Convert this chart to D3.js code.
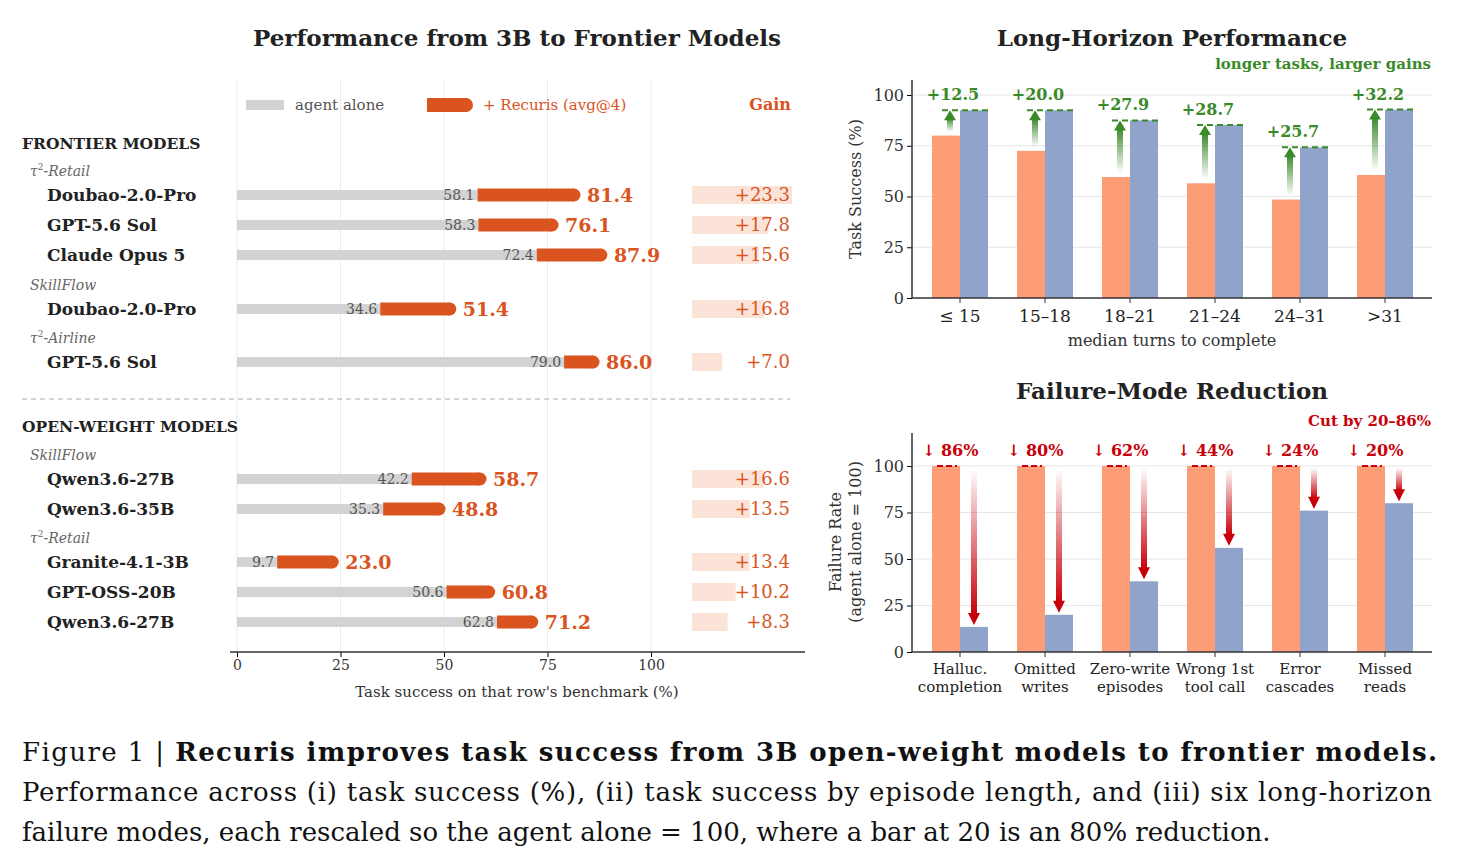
<!DOCTYPE html>
<html><head><meta charset="utf-8">
<script src="https://cdn.jsdelivr.net/npm/d3@7"></script>
<style>body{margin:0;background:#fff}svg{display:block}text{font-family:"DejaVu Serif",serif}</style>
</head><body><svg id="fig" width="1458" height="865"></svg>
<script>
// left panel data
const rowModels = ['Doubao-2.0-Pro','GPT-5.6 Sol','Claude Opus 5','Doubao-2.0-Pro','GPT-5.6 Sol','Qwen3.6-27B','Qwen3.6-35B','Granite-4.1-3B','GPT-OSS-20B','Qwen3.6-27B'];
const agentAlone = [58.1,58.3,72.4,34.6,79.0,42.2,35.3,9.7,50.6,62.8];
const withRecuris = [81.4,76.1,87.9,51.4,86.0,58.7,48.8,23.0,60.8,71.2];
const gains = [23.3,17.8,15.6,16.8,7.0,16.6,13.5,13.4,10.2,8.3];
const rowY = [195,225,255,309,362,479,509,562,592,622];
const groupLabels = [['τ','-Retail',171],['SkillFlow','',285],['τ','-Airline',338],['SkillFlow','',455],['τ','-Retail',538]];
// long-horizon data
const lengthBins = ['≤ 15','15–18','18–21','21–24','24–31','>31'];
const baseSuccess = [80.0,72.5,59.6,56.5,48.5,60.6];
const recurisSuccess = [92.5,92.5,87.5,85.2,74.2,92.8];
const lhGains = [12.5,20.0,27.9,28.7,25.7,32.2];
// failure modes
const failureModes = [['Halluc.','completion'],['Omitted','writes'],['Zero-write','episodes'],['Wrong 1st','tool call'],['Error','cascades'],['Missed','reads']];
const failRate = [13.5,20,38,56,76,80];
const cutLabels = ['86%','80%','62%','44%','24%','20%'];

const ORANGE = '#d9541e', GRAY = '#d3d3d3', SALMON = '#fc9d78', BLUE = '#8fa3cb', GREEN = '#3b8a2a', RED = '#c8000a';
const svg = d3.select('#fig');
const defs = svg.append('defs');

// ---------- left panel ----------
const x = d3.scaleLinear().domain([0,100]).range([237,651]);
svg.append('text').attr('x',517).attr('y',46).attr('text-anchor','middle').attr('font-size',23).attr('font-weight','bold').attr('fill','#222').text('Performance from 3B to Frontier Models');
svg.append('g').selectAll('line').data([0,25,50,75,100]).join('line')
  .attr('x1',d=>x(d)).attr('x2',d=>x(d)).attr('y1',80).attr('y2',652).attr('stroke','#ebebeb');
const ax = svg.append('g').attr('transform','translate(0,652)')
  .call(d3.axisBottom(x).tickValues([0,25,50,75,100]).tickSize(5));
ax.select('.domain').remove();
ax.selectAll('text').attr('font-size',14).attr('fill','#333').attr('font-family','DejaVu Serif');
svg.append('line').attr('x1',230).attr('x2',805).attr('y1',652).attr('y2',652).attr('stroke','#333').attr('stroke-width',1.5);
svg.append('text').attr('x',517).attr('y',697).attr('text-anchor','middle').attr('font-size',15).attr('fill','#333').text("Task success on that row's benchmark (%)");
// legend
svg.append('rect').attr('x',246).attr('y',100).attr('width',38).attr('height',10).attr('fill',GRAY);
svg.append('text').attr('x',295).attr('y',110).attr('font-size',15).attr('fill','#555').text('agent alone');
svg.append('rect').attr('x',427).attr('y',98).attr('width',40).attr('height',14).attr('fill',ORANGE);
svg.append('circle').attr('cx',466).attr('cy',105).attr('r',7).attr('fill',ORANGE);
svg.append('text').attr('x',483).attr('y',110).attr('font-size',15).attr('fill',ORANGE).text('+ Recuris (avg@4)');
svg.append('text').attr('x',791).attr('y',110).attr('text-anchor','end').attr('font-size',16).attr('font-weight','bold').attr('fill',ORANGE).text('Gain');
// sections
[['FRONTIER MODELS',149],['OPEN-WEIGHT MODELS',432]].forEach(([t,y])=>
  svg.append('text').attr('x',22).attr('y',y).attr('font-size',15.5).attr('font-weight','bold').attr('fill','#222').text(t));
svg.append('line').attr('x1',22).attr('x2',790).attr('y1',399).attr('y2',399).attr('stroke','#aaa').attr('stroke-dasharray','5,4');
groupLabels.forEach(([a,b,y])=>{
  const t = svg.append('text').attr('x',30).attr('y',y+5).attr('font-size',14).attr('font-style','italic').attr('fill','#666');
  t.append('tspan').text(a);
  if (b) { t.append('tspan').attr('dy',-6).attr('font-size',9).attr('font-style','normal').text('2'); t.append('tspan').attr('dy',6).text(b); }
});
const rows = svg.append('g').selectAll('g').data(rowModels).join('g');
rows.append('text').attr('x',47).attr('y',(d,i)=>rowY[i]+6).attr('font-size',17).attr('font-weight','bold').attr('fill','#222').text(d=>d);
rows.append('rect').attr('x',x(0)).attr('y',(d,i)=>rowY[i]-5).attr('width',(d,i)=>x(agentAlone[i])-x(0)).attr('height',10).attr('fill',GRAY);
rows.append('text').attr('x',(d,i)=>x(agentAlone[i])-3).attr('y',(d,i)=>rowY[i]+5).attr('text-anchor','end').attr('font-size',14).attr('fill','#555').text((d,i)=>agentAlone[i].toFixed(1));
rows.append('rect').attr('x',(d,i)=>x(agentAlone[i])).attr('y',(d,i)=>rowY[i]-6.5).attr('width',(d,i)=>x(withRecuris[i])-x(agentAlone[i])).attr('height',13).attr('fill',ORANGE);
rows.append('circle').attr('cx',(d,i)=>x(withRecuris[i])).attr('cy',(d,i)=>rowY[i]).attr('r',6.5).attr('fill',ORANGE);
rows.append('text').attr('x',(d,i)=>x(withRecuris[i])+13).attr('y',(d,i)=>rowY[i]+7).attr('font-size',19).attr('font-weight','bold').attr('fill',ORANGE).text((d,i)=>withRecuris[i].toFixed(1));
const gw = d3.scaleLinear().domain([0,23.3]).range([0,100]);
rows.append('rect').attr('x',692).attr('y',(d,i)=>rowY[i]-9).attr('width',(d,i)=>gw(gains[i])).attr('height',18).attr('fill','#fbe3d8');
rows.append('text').attr('x',790).attr('y',(d,i)=>rowY[i]+6).attr('text-anchor','end').attr('font-size',18).attr('fill',ORANGE).text((d,i)=>'+'+gains[i].toFixed(1));

// ---------- right panels ----------
const xb = d3.scaleBand().domain(lengthBins.map((d,i)=>i)).range([917.5,1427.5]);
const bw = 28;
function cx(i){return xb(i)+xb.bandwidth()/2;}
function panel(y0,y1){
  const y = d3.scaleLinear().domain([0,100]).range([y1,y0]);
  svg.append('g').selectAll('line').data([25,50,75,100]).join('line')
    .attr('x1',912).attr('x2',1432).attr('y1',d=>y(d)).attr('y2',d=>y(d)).attr('stroke','#e6e6e6');
  const g = svg.append('g').attr('transform','translate(912,0)').call(d3.axisLeft(y).tickValues([0,25,50,75,100]).tickSize(5));
  g.select('.domain').remove();
  g.selectAll('text').attr('font-size',16).attr('fill','#333').attr('font-family','DejaVu Serif');
  return y;
}
function frame(ytop,ybot){
  svg.append('line').attr('x1',912).attr('x2',912).attr('y1',ytop).attr('y2',ybot).attr('stroke','#333').attr('stroke-width',1.5);
  svg.append('line').attr('x1',912).attr('x2',1432).attr('y1',ybot).attr('y2',ybot).attr('stroke','#333').attr('stroke-width',1.5);
  svg.append('g').selectAll('line').data(lengthBins).join('line').attr('x1',(d,i)=>cx(i)).attr('x2',(d,i)=>cx(i)).attr('y1',ybot).attr('y2',ybot+5).attr('stroke','#333');
}
// gradients
const gg = defs.append('linearGradient').attr('id','ggreen').attr('x1',0).attr('x2',0).attr('y1',1).attr('y2',0);
gg.append('stop').attr('offset',0).attr('stop-color',GREEN).attr('stop-opacity',0);
gg.append('stop').attr('offset',1).attr('stop-color',GREEN).attr('stop-opacity',1);
const gr = defs.append('linearGradient').attr('id','gred').attr('x1',0).attr('x2',0).attr('y1',0).attr('y2',1);
gr.append('stop').attr('offset',0).attr('stop-color',RED).attr('stop-opacity',0);
gr.append('stop').attr('offset',1).attr('stop-color',RED).attr('stop-opacity',1);

// long-horizon
svg.append('text').attr('x',1172).attr('y',46).attr('text-anchor','middle').attr('font-size',23).attr('font-weight','bold').attr('fill','#222').text('Long-Horizon Performance');
svg.append('text').attr('x',1431).attr('y',69).attr('text-anchor','end').attr('font-size',15).attr('font-weight','bold').attr('fill',GREEN).text('longer tasks, larger gains');
const y1 = panel(95,298);
const lh = svg.append('g').selectAll('g').data(lengthBins).join('g');
lh.append('rect').attr('x',(d,i)=>cx(i)-bw).attr('width',bw).attr('y',(d,i)=>y1(baseSuccess[i])).attr('height',(d,i)=>y1(0)-y1(baseSuccess[i])).attr('fill',SALMON);
lh.append('rect').attr('x',(d,i)=>cx(i)).attr('width',bw).attr('y',(d,i)=>y1(recurisSuccess[i])).attr('height',(d,i)=>y1(0)-y1(recurisSuccess[i])).attr('fill',BLUE);
lh.append('rect').attr('x',(d,i)=>cx(i)-13).attr('width',6).attr('y',(d,i)=>y1(recurisSuccess[i])+8).attr('height',(d,i)=>y1(baseSuccess[i])-y1(recurisSuccess[i])-12).attr('fill','url(#ggreen)');
lh.append('path').attr('d',(d,i)=>{const t=y1(recurisSuccess[i]),c=cx(i)-10;return `M${c-6},${t+10}L${c},${t}L${c+6},${t+10}Z`;}).attr('fill',GREEN);
lh.append('line').attr('x1',(d,i)=>cx(i)-18).attr('x2',(d,i)=>cx(i)+28).attr('y1',(d,i)=>y1(recurisSuccess[i])).attr('y2',(d,i)=>y1(recurisSuccess[i])).attr('stroke',GREEN).attr('stroke-width',2).attr('stroke-dasharray','6,4');
lh.append('text').attr('x',(d,i)=>cx(i)-7).attr('y',(d,i)=>y1(recurisSuccess[i])-10).attr('text-anchor','middle').attr('font-size',16).attr('font-weight','bold').attr('fill',GREEN).text((d,i)=>'+'+lhGains[i].toFixed(1));
frame(80,298);
lh.append('text').attr('x',(d,i)=>cx(i)).attr('y',322).attr('text-anchor','middle').attr('font-size',17).attr('fill','#222').text(d=>d);
svg.append('text').attr('x',1172).attr('y',346).attr('text-anchor','middle').attr('font-size',16).attr('fill','#333').text('median turns to complete');
svg.append('text').attr('transform','translate(861,189) rotate(-90)').attr('text-anchor','middle').attr('font-size',16).attr('fill','#333').text('Task Success (%)');

// failure modes
svg.append('text').attr('x',1172).attr('y',399).attr('text-anchor','middle').attr('font-size',23).attr('font-weight','bold').attr('fill','#222').text('Failure-Mode Reduction');
svg.append('text').attr('x',1431).attr('y',426).attr('text-anchor','end').attr('font-size',15).attr('font-weight','bold').attr('fill',RED).text('Cut by 20–86%');
const y2 = panel(466,652);
const fm = svg.append('g').selectAll('g').data(failureModes).join('g');
fm.append('rect').attr('x',(d,i)=>cx(i)-bw).attr('width',bw).attr('y',y2(100)).attr('height',y2(0)-y2(100)).attr('fill',SALMON);
fm.append('rect').attr('x',(d,i)=>cx(i)).attr('width',bw).attr('y',(d,i)=>y2(failRate[i])).attr('height',(d,i)=>y2(0)-y2(failRate[i])).attr('fill',BLUE);
fm.append('line').attr('x1',(d,i)=>cx(i)-23).attr('x2',(d,i)=>cx(i)-3).attr('y1',y2(100)).attr('y2',y2(100)).attr('stroke',RED).attr('stroke-width',2).attr('stroke-dasharray','6,3');
fm.append('rect').attr('x',(d,i)=>cx(i)+11).attr('width',6).attr('y',y2(100)+2).attr('height',(d,i)=>y2(failRate[i])-y2(100)-14).attr('fill','url(#gred)');
fm.append('path').attr('d',(d,i)=>{const t=y2(failRate[i])-2,c=cx(i)+14;return `M${c-6},${t-12}L${c},${t}L${c+6},${t-12}Z`;}).attr('fill',RED);
fm.append('text').attr('x',(d,i)=>cx(i)-38).attr('y',456).attr('font-size',16).attr('font-weight','bold').attr('fill',RED).text((d,i)=>'↓ '+cutLabels[i]);
frame(433,652);
fm.append('text').attr('x',(d,i)=>cx(i)).attr('y',674).attr('text-anchor','middle').attr('font-size',15).attr('fill','#222').text(d=>d[0]);
fm.append('text').attr('x',(d,i)=>cx(i)).attr('y',692).attr('text-anchor','middle').attr('font-size',15).attr('fill','#222').text(d=>d[1]);
svg.append('text').attr('transform','translate(841,542) rotate(-90)').attr('text-anchor','middle').attr('font-size',16).attr('fill','#333').text('Failure Rate');
svg.append('text').attr('transform','translate(861,542) rotate(-90)').attr('text-anchor','middle').attr('font-size',16).attr('fill','#333').text('(agent alone = 100)');

// caption
const cap = svg.append('g').attr('font-size',26).attr('fill','#111');
const l1 = cap.append('text').attr('x',22).attr('y',761).attr('textLength',1415).attr('lengthAdjust','spacing');
l1.append('tspan').text('Figure 1 | ');
l1.append('tspan').attr('font-weight','bold').text('Recuris improves task success from 3B open-weight models to frontier models.');
cap.append('text').attr('x',22).attr('y',801).attr('textLength',1410).attr('lengthAdjust','spacing').text('Performance across (i) task success (%), (ii) task success by episode length, and (iii) six long-horizon');
cap.append('text').attr('x',22).attr('y',841).text('failure modes, each rescaled so the agent alone = 100, where a bar at 20 is an 80% reduction.');
</script></body></html>
